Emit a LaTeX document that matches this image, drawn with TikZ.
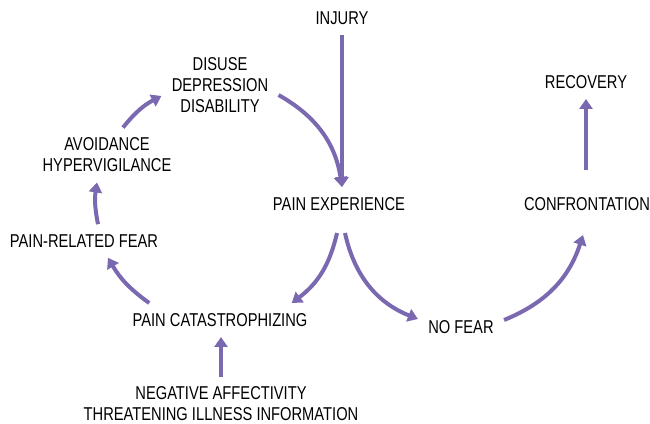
\documentclass[tikz,border=0pt]{standalone}
\usepackage{fontspec}
\setmainfont{Liberation Sans}[FakeStretch=0.79]
\usetikzlibrary{calc,arrows.meta}
\definecolor{painpurple}{RGB}{122,104,176}

\begin{document}
\begin{tikzpicture}[x=0.5pt,y=0.5pt,every node/.style={align=center,inner sep=5pt,font=\fontsize{9.3}{10.5}\selectfont}]
\useasboundingbox (0,0) rectangle (650,-424);

		\node (inj) at (342,-18){INJURY};
		\node (dis) at (220,-85){DISUSE\\DEPRESSION\\DISABILITY};
		\node (av) at (107,-155){AVOIDANCE\\HYPERVIGILANCE};
\node (prf) at (84,-241){PAIN-RELATED FEAR};
\node (pc) at (220,-320){PAIN CATASTROPHIZING};
\node (neg) at (221,-404){NEGATIVE AFFECTIVITY\\THREATENING ILLNESS INFORMATION};
\node (pe) at (339,-204){PAIN EXPERIENCE};
\node (nf) at (461,-327){NO FEAR};
\node (conf) at (587,-204){CONFRONTATION};
\node (rec) at (586,-82){RECOVERY};
\begin{scope}[painpurple, line width=2pt, -{Triangle[length=5pt,width=6.5pt]}]
%straight arrows
\draw (inj.south) -- (inj.south |- pe.north);
\draw (neg.north) -- (neg.north |- pc.south);
\draw[shorten <=8.5pt] (rec.south |- conf.north) -- (rec.south);
%fear cycle
\draw ([yshift=-5pt]dis.east) to[bend left=26] (inj.south |- pe.north);
\draw ([xshift=-1pt,yshift=-6pt]pe.south) to[bend left=20] ([xshift=-13pt]pc.north east);
\draw ([xshift=13.5pt]pc.north west) to[bend left=12] ([xshift=12pt]prf.south);
\draw ([xshift=7pt]prf.north) to[bend left=10] ([xshift=-5pt]av.south);
\draw ([xshift=8pt]av.north) to[bend left=12] ([yshift=-5.5pt]dis.west);
%recovery path
\draw ([xshift=3pt,yshift=-6pt]pe.south) to[bend right=28] ([yshift=4pt]nf.west);
\draw ([yshift=3.5pt]nf.east) to[bend right=25] ([xshift=-2pt,yshift=-7pt]conf.south);
\end{scope}
\end{tikzpicture}
\end{document}
